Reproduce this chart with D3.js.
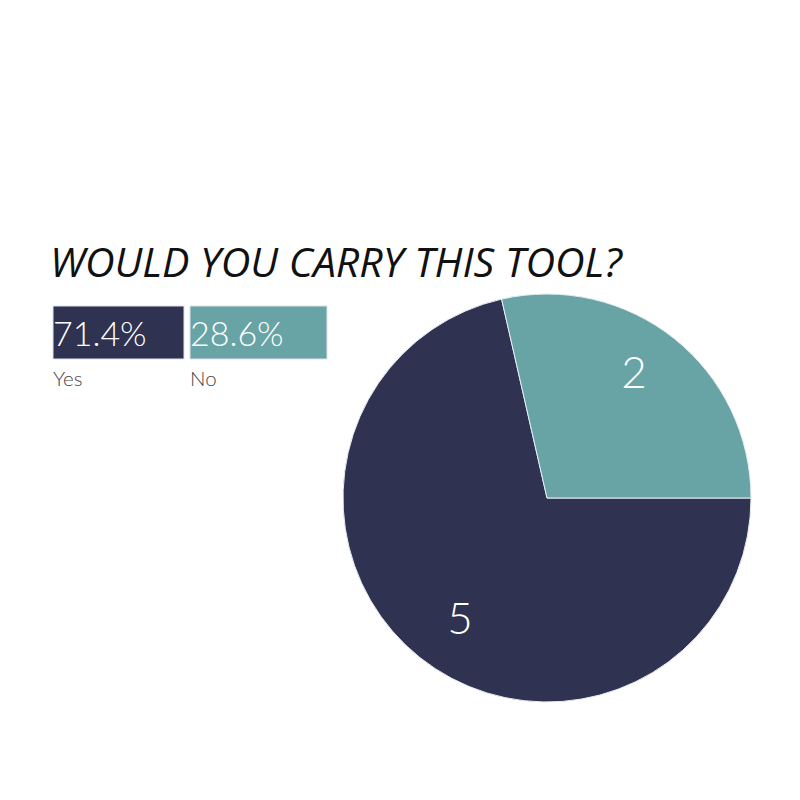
<!DOCTYPE html>
<html><head><meta charset="utf-8">
<script src="https://cdn.jsdelivr.net/npm/d3@7"></script>
<style>body{margin:0;background:#fff}</style>
</head><body>
<svg id="c" width="800" height="800"></svg>
<script>
const title = "WOULD YOU CARRY THIS TOOL?";
const categories = ["Yes", "No"];
const values = [5, 2];
const colors = ["#2f3250", "#68a4a5"];

const svg = d3.select("#c");
svg.append("text").attr("x", 50).attr("y", 277)
  .attr("font-family", "Open Sans").attr("font-style", "italic")
  .attr("font-size", 41).attr("fill", "#111").text(title);

const total = d3.sum(values);
const fmt = d3.format(".1%");
const boxW = [131, 137];
let lx = 53;
categories.forEach((c, i) => {
  const g = svg.append("g").attr("transform", `translate(${lx},306)`);
  g.append("rect").attr("width", boxW[i]).attr("height", 53)
    .attr("fill", colors[i]).attr("stroke", "#dde3ea").attr("stroke-width", 1);
  g.append("text").attr("x", 0).attr("y", 40).attr("font-family", "Lato")
    .attr("font-weight", 300).attr("font-size", 34).attr("fill", "#fff")
    .text(fmt(values[i] / total));
  g.append("text").attr("x", 0).attr("y", 80).attr("font-family", "Lato")
    .attr("font-weight", 300).attr("font-size", 20.5).attr("fill", "#444")
    .text(c);
  lx += boxW[i] + 6;
});

const cx = 547, cy = 498, r = 204;
const pie = d3.pie().sort(null).value(d => d)
  .startAngle(Math.PI / 2).endAngle(Math.PI / 2 + 2 * Math.PI);
const arcs = pie(values);
const arc = d3.arc().innerRadius(0).outerRadius(r);
const pg = svg.append("g").attr("transform", `translate(${cx},${cy})`);
pg.selectAll("path").data(arcs).join("path")
  .attr("d", arc).attr("fill", (d, i) => colors[i])
  .attr("stroke", "#e6eef2").attr("stroke-width", 1);
const lr = r * 0.738, off = -3.3 * Math.PI / 180;
pg.selectAll("text").data(arcs).join("text")
  .attr("transform", d => {
    const a = (d.startAngle + d.endAngle) / 2 + off;
    return `translate(${lr * Math.sin(a)},${-lr * Math.cos(a)})`;
  })
  .attr("text-anchor", "middle").attr("dy", "0.29em")
  .attr("font-family", "Lato").attr("font-weight", 300)
  .attr("font-size", 44).attr("fill", "#fff")
  .text(d => d.data);
</script>
</body></html>
